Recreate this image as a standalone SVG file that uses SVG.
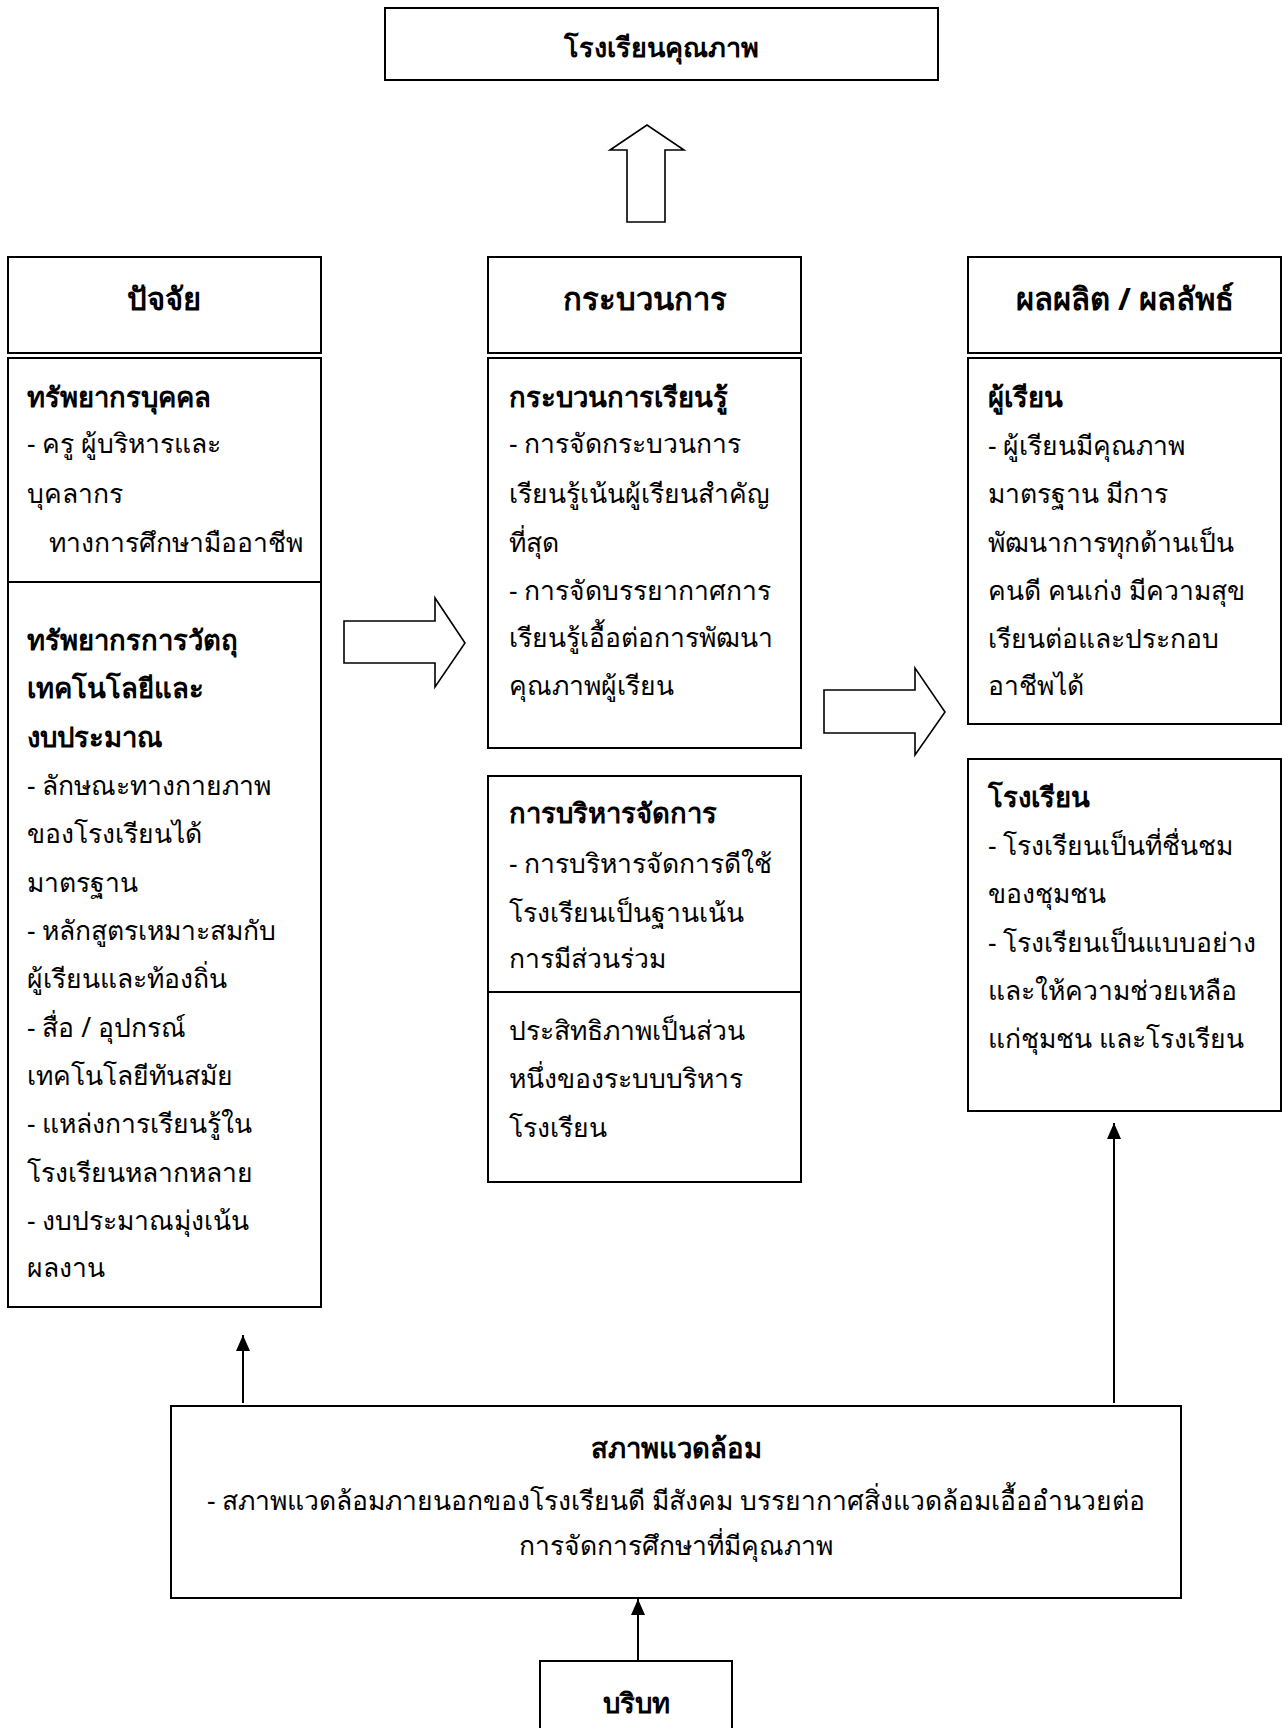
<svg xmlns="http://www.w3.org/2000/svg" width="1284" height="1728" viewBox="0 0 1284 1728">
<defs>
<style>
.box{fill:#fff;stroke:#000;stroke-width:2}
.ln{fill:none;stroke:#000;stroke-width:2}
.blk{fill:#fff;stroke:#000;stroke-width:1.6;stroke-linejoin:miter}
text{font-family:"Noto Sans","DejaVu Sans",sans-serif;fill:#000}
.t{font-size:26.5px}
.b{font-size:27.5px;font-weight:bold}
.h{font-size:31px;font-weight:bold}
.ti{font-size:27px;font-weight:bold}
.c{text-anchor:middle}
</style>
<marker id="ah" viewBox="0 0 16 14" refX="16" refY="7" markerWidth="16" markerHeight="14" markerUnits="userSpaceOnUse" orient="auto">
<path d="M0,0 L16,7 L0,14 Z" fill="#000"/>
</marker>
</defs>
<rect width="1284" height="1728" fill="#fff"/>

<g id="quality-school">
<rect class="box" x="385" y="8" width="553" height="72"/>
<text class="ti c" x="661" y="57">โรงเรียนคุณภาพ</text>
</g>

<g id="inputs-header">
<rect class="box" x="8" y="257" width="313" height="96"/>
<text class="h c" x="164" y="310">ปัจจัย</text>
</g>
<g id="process-header">
<rect class="box" x="488" y="257" width="313" height="96"/>
<text class="h c" x="645" y="310">กระบวนการ</text>
</g>
<g id="output-header">
<rect class="box" x="968" y="257" width="313" height="96"/>
<text class="h c" x="1125" y="310">ผลผลิต / ผลลัพธ์</text>
</g>

<g id="inputs">
<rect class="box" x="8" y="358" width="313" height="949"/>
<line class="ln" x1="8" y1="582" x2="321" y2="582"/>
<text class="b" x="27" y="407">ทรัพยากรบุคคล</text>
<text class="t" x="27" y="453">- ครู  ผู้บริหารและ</text>
<text class="t" x="27" y="503">บุคลากร</text>
<text class="t" x="49" y="552">ทางการศึกษามืออาชีพ</text>
<text class="b" x="27" y="650">ทรัพยากรการวัตถุ</text>
<text class="b" x="27" y="698">เทคโนโลยีและ</text>
<text class="b" x="27" y="747">งบประมาณ</text>
<text class="t" x="27" y="795">- ลักษณะทางกายภาพ</text>
<text class="t" x="27" y="843">ของโรงเรียนได้</text>
<text class="t" x="27" y="892">มาตรฐาน</text>
<text class="t" x="27" y="940">- หลักสูตรเหมาะสมกับ</text>
<text class="t" x="27" y="988">ผู้เรียนและท้องถิ่น</text>
<text class="t" x="27" y="1037">- สื่อ / อุปกรณ์</text>
<text class="t" x="27" y="1085">เทคโนโลยีทันสมัย</text>
<text class="t" x="27" y="1133">- แหล่งการเรียนรู้ใน</text>
<text class="t" x="27" y="1182">โรงเรียนหลากหลาย</text>
<text class="t" x="27" y="1230">- งบประมาณมุ่งเน้น</text>
<text class="t" x="27" y="1277">ผลงาน</text>
</g>

<g id="learning-process">
<rect class="box" x="488" y="358" width="313" height="390"/>
<text class="b" x="509" y="407">กระบวนการเรียนรู้</text>
<text class="t" x="509" y="453">- การจัดกระบวนการ</text>
<text class="t" x="509" y="503">เรียนรู้เน้นผู้เรียนสำคัญ</text>
<text class="t" x="509" y="552">ที่สุด</text>
<text class="t" x="509" y="600">- การจัดบรรยากาศการ</text>
<text class="t" x="509" y="647">เรียนรู้เอื้อต่อการพัฒนา</text>
<text class="t" x="509" y="695">คุณภาพผู้เรียน</text>
</g>

<g id="management">
<rect class="box" x="488" y="776" width="313" height="406"/>
<line class="ln" x1="488" y1="992" x2="801" y2="992"/>
<text class="b" x="509" y="823">การบริหารจัดการ</text>
<text class="t" x="509" y="873">- การบริหารจัดการดีใช้</text>
<text class="t" x="509" y="922">โรงเรียนเป็นฐานเน้น</text>
<text class="t" x="509" y="968">การมีส่วนร่วม</text>
<text class="t" x="509" y="1040">ประสิทธิภาพเป็นส่วน</text>
<text class="t" x="509" y="1088">หนึ่งของระบบบริหาร</text>
<text class="t" x="509" y="1137">โรงเรียน</text>
</g>

<g id="learners">
<rect class="box" x="968" y="358" width="313" height="366"/>
<text class="b" x="988" y="407">ผู้เรียน</text>
<text class="t" x="988" y="455">- ผู้เรียนมีคุณภาพ</text>
<text class="t" x="988" y="503">มาตรฐาน มีการ</text>
<text class="t" x="988" y="552">พัฒนาการทุกด้านเป็น</text>
<text class="t" x="988" y="600">คนดี คนเก่ง มีความสุข</text>
<text class="t" x="988" y="648">เรียนต่อและประกอบ</text>
<text class="t" x="988" y="695">อาชีพได้</text>
</g>

<g id="school">
<rect class="box" x="968" y="759" width="313" height="352"/>
<text class="b" x="988" y="807">โรงเรียน</text>
<text class="t" x="988" y="855">- โรงเรียนเป็นที่ชื่นชม</text>
<text class="t" x="988" y="903">ของชุมชน</text>
<text class="t" x="988" y="952">- โรงเรียนเป็นแบบอย่าง</text>
<text class="t" x="988" y="1000">และให้ความช่วยเหลือ</text>
<text class="t" x="988" y="1048">แก่ชุมชน และโรงเรียน</text>
</g>

<g id="environment">
<rect class="box" x="171" y="1406" width="1010" height="192"/>
<text class="b c" x="676" y="1458">สภาพแวดล้อม</text>
<text class="t c" x="676" y="1510">- สภาพแวดล้อมภายนอกของโรงเรียนดี มีสังคม บรรยากาศสิ่งแวดล้อมเอื้ออำนวยต่อ</text>
<text class="t c" x="676" y="1555">การจัดการศึกษาที่มีคุณภาพ</text>
</g>

<g id="context">
<rect class="box" x="540" y="1661" width="192" height="90"/>
<text class="b c" x="636" y="1713">บริบท</text>
</g>

<g id="connectors">
<polygon class="blk" points="627,222 665,222 665,150 684,150 647,125 610,150 627,150"/>
<polygon class="blk" points="344,621 435,621 435,598 465,643 435,687 435,663 344,663"/>
<polygon class="blk" points="824,690 915,690 915,668 945,712 915,755 915,733 824,733"/>
<line class="ln" x1="243" y1="1403" x2="243" y2="1335" marker-end="url(#ah)"/>
<line class="ln" x1="1114" y1="1403" x2="1114" y2="1123" marker-end="url(#ah)"/>
<line class="ln" x1="638" y1="1661" x2="638" y2="1599" marker-end="url(#ah)"/>
</g>
</svg>
